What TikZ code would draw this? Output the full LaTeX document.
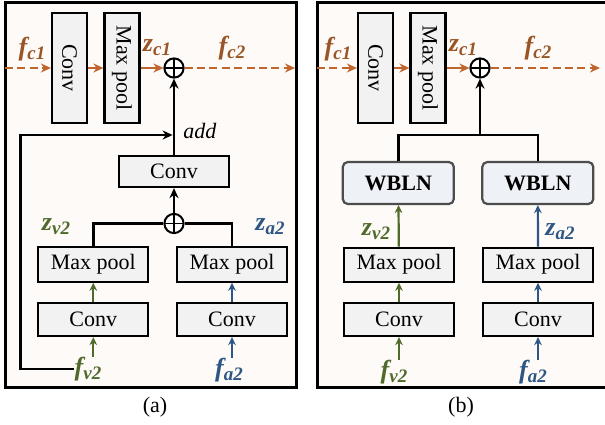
\documentclass[tikz,border=0pt]{standalone}
\usepackage{fontspec}
\setmainfont{Liberation Serif}
\usetikzlibrary{arrows.meta,positioning}
\definecolor{cOrange}{HTML}{C0652E}
\definecolor{cBrown}{HTML}{9A5526}
\definecolor{cGreen}{HTML}{4F6B2C}
\definecolor{cBlue}{HTML}{2E5685}
\definecolor{panelbg}{HTML}{FEFAF7}
\definecolor{boxgray}{HTML}{F2F2F2}
\definecolor{wblnfill}{HTML}{EEF1F6}
\newcommand{\vlab}[2]{#1\raisebox{-0.35ex}{\fontsize{9.5}{10}\selectfont#2}}
\begin{document}
\begin{tikzpicture}[x=0.5pt, y=-0.5pt,
  box/.style={draw, line width=1.1pt, fill=boxgray, inner sep=0pt,
    font=\fontsize{11}{12}\selectfont},
  tallbox/.style={box, rotate=-90, minimum width=55pt, minimum height=17.5pt},
  widebox/.style={box, minimum width=55pt, minimum height=17pt},
  wbln/.style={draw=black!70, line width=1.1pt, fill=wblnfill, rounded corners=2.5pt,
    minimum width=55.5pt, minimum height=21pt, font=\fontsize{11}{12}\selectfont\bfseries},
  oplus/.style={circle, draw, line width=1pt, minimum size=9.6pt, inner sep=0pt, fill=white,
    path picture={\draw[line width=0.9pt] (path picture bounding box.north) -- (path picture bounding box.south)
      (path picture bounding box.west) -- (path picture bounding box.east);}},
  lab/.style={font=\fontsize{13}{15}\selectfont\bfseries\itshape, inner sep=0pt},
  flow/.style={line width=1.3pt, -{Stealth[length=5pt,width=4.5pt]}},
  thinflow/.style={line width=1.1pt, -{Stealth[length=4pt,width=3.8pt]}},
  dashflow/.style={flow, cOrange, dash pattern=on 4pt off 2.2pt}]
  \useasboundingbox (0,0) rectangle (605,424);
  % top row, both panels
  \foreach \p/\dx/\fl/\fr/\out in {a/0/5/296/295, b/306/317/608/600}{
    \draw[line width=1.5pt, fill=panelbg] (\fl,2.5) rectangle (\fr,387);
    \node[tallbox] (conv\p) at (69.5+\dx,68) {Conv};
    \node[tallbox] (mp\p) at (122+\dx,68) {Max pool};
    \node[oplus] (sumc\p) at (174+\dx,68) {};
    \coordinate (in\p) at (\fl,68);
    \coordinate (out\p) at (\out,68);
    \draw[dashflow] (in\p) -- (conv\p);
    \draw[flow, cOrange] (conv\p) -- (mp\p);
    \draw[flow, cOrange] (mp\p) -- (sumc\p);
    \draw[dashflow] (sumc\p) -- (out\p);
    \node[lab, cBrown] (fc\p) at (32+\dx,49) {\vlab{f}{c1}};
    \node[lab, cBrown] (zc\p) at (157+\dx,48) {\vlab{z}{c1}};
    \node[lab, cBrown] (fcc\p) at (232+\dx,48) {\vlab{f}{c2}};
    \node[font=\fontsize{11}{12}\selectfont] (cap\p) at (155+\dx,407) {(\p)};
  }
  % panel (a)
  \node[widebox, minimum height=15.5pt] (convma) at (174,171.5) {Conv};
  \node[oplus] (sumva) at (174,223.5) {};
  \node[widebox, minimum height=17.5pt] (mpva) at (93.3,264.2) {Max pool};
  \node[widebox, minimum height=17.5pt] (mpaa) at (232,264.2) {Max pool};
  \node[widebox, minimum height=16.7pt] (convva) at (93.3,319.3) {Conv};
  \node[widebox, minimum height=16.7pt] (convaa) at (232,319.3) {Conv};
  \node[lab, cGreen] (fva) at (88,369) {\vlab{f}{v2}};
  \node[lab, cBlue] (faa) at (229,370) {\vlab{f}{a2}};
  \node[lab, cGreen] (zva) at (56,227) {\vlab{z}{v2}};
  \node[lab, cBlue] (zaa) at (270,227) {\vlab{z}{a2}};
  \node[font=\fontsize{11}{12}\selectfont\itshape, anchor=west, inner sep=0pt] (adda) at (183,131) {add};
  \coordinate (joina) at (174,135);
  \coordinate (loopa) at (20.7,135);
  \draw[flow] (convma) -- (sumca);
  \draw[flow] (sumva) -- (convma);
  \draw[line width=1.3pt] (mpva.north) |- (sumva.west);
  \draw[line width=1.3pt] (mpaa.north) |- (sumva.east);
  \draw[thinflow, cGreen] (convva) -- (mpva);
  \draw[thinflow, cBlue] (convaa) -- (mpaa);
  \draw[thinflow, cGreen] (fva.north -| convva) -- (convva);
  \draw[thinflow, cBlue] (faa.north -| convaa) -- (convaa);
  \draw[flow, shorten >=0.7pt] (fva.west) -| (loopa) -- (joina);
  % panel (b)
  \node[wbln] (wblnv) at (398.3,183) {WBLN};
  \node[wbln] (wblna) at (537.8,183) {WBLN};
  \node[widebox] (mpvb) at (399,264.7) {Max pool};
  \node[widebox] (mpab) at (538,264.7) {Max pool};
  \node[widebox, minimum height=16.7pt] (convvb) at (399,319.3) {Conv};
  \node[widebox, minimum height=16.7pt] (convab) at (538,319.3) {Conv};
  \node[lab, cGreen] (fvb) at (394,372) {\vlab{f}{v2}};
  \node[lab, cBlue] (fab) at (533,372) {\vlab{f}{a2}};
  \node[lab, cGreen] (zvb) at (376,232) {\vlab{z}{v2}};
  \node[lab, cBlue] (zab) at (560,232) {\vlab{z}{a2}};
  \coordinate (joinb) at (480,135);
  \draw[line width=1.3pt] (wblnv.north) |- (joinb) -| (wblna.north);
  \draw[flow] (joinb) -- (sumcb);
  \draw[thinflow, cGreen] (mpvb) -- (wblnv);
  \draw[thinflow, cBlue] (mpab) -- (wblna);
  \draw[thinflow, cGreen] (convvb) -- (mpvb);
  \draw[thinflow, cBlue] (convab) -- (mpab);
  \draw[thinflow, cGreen] (fvb.north -| convvb) -- (convvb);
  \draw[thinflow, cBlue] (fab.north -| convab) -- (convab);
\end{tikzpicture}
\end{document}
